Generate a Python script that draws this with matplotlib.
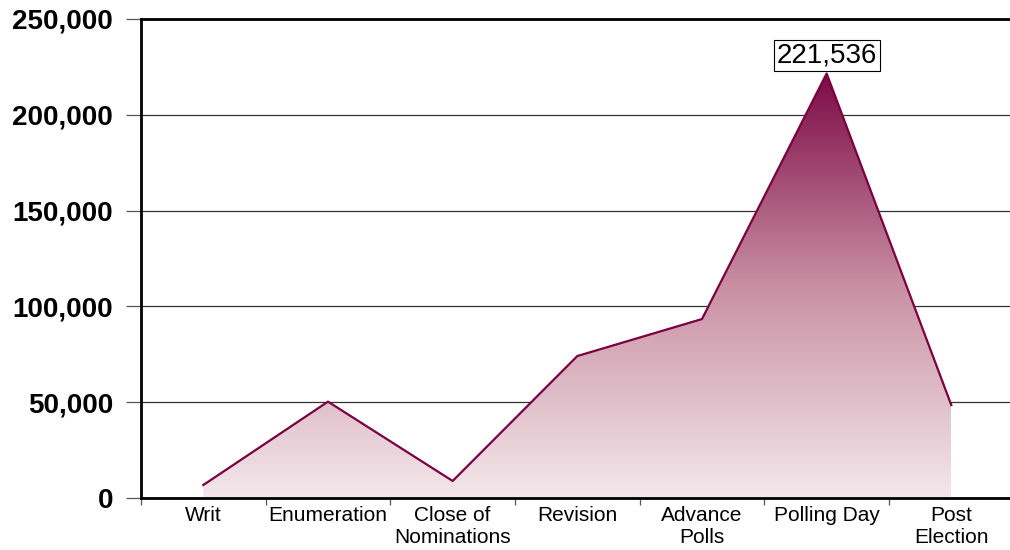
import numpy as np
import matplotlib.pyplot as plt
import matplotlib.ticker as ticker
from matplotlib.colors import LinearSegmentedColormap

plt.rcParams['font.family'] = ['Liberation Sans', 'DejaVu Sans']

# данные
stages = ['Writ', 'Enumeration', 'Close of\nNominations', 'Revision',
          'Advance\nPolls', 'Polling Day', 'Post\nElection']
values = [6800, 50300, 8900, 74100, 93400, 221536, 48500]
peak_label = '221,536'

x = np.arange(len(stages))

fig = plt.figure(figsize=(10.1, 5.5), dpi=100)
ax = fig.add_axes([0.1396, 0.0945, 0.864, 0.871])

ax.set_xlim(-0.5, len(stages) - 0.5)
ax.set_ylim(0, 250000)

# заливка с градиентом
poly = ax.fill_between(x, values, 0, color='none', lw=0, zorder=2)
cmap = LinearSegmentedColormap.from_list('grad', ['#f3e8ec', '#c98fa3', '#7c0a45'])
grad = np.linspace(0, 1, 256).reshape(-1, 1)
img = ax.imshow(grad, cmap=cmap, origin='lower', aspect='auto',
                extent=[x[0], x[-1], 0, max(values)], zorder=2)
img.set_clip_path(poly.get_paths()[0], transform=ax.transData)
ax.plot(x, values, color='#7a0040', lw=1.6, zorder=3)

# подпись максимума
imax = int(np.argmax(values))
ax.annotate(peak_label, (x[imax], values[imax]), xytext=(0, 13),
            textcoords='offset points', ha='center', va='center', fontsize=20,
            bbox=dict(boxstyle='square,pad=0.1', fc='white', ec='black', lw=0.8),
            zorder=5)

# сетка и оси
ax.yaxis.set_major_locator(ticker.MultipleLocator(50000))
ax.yaxis.set_major_formatter(ticker.FuncFormatter(lambda v, p: f'{int(v):,}'))
ax.grid(axis='y', color='#333333', lw=0.9, zorder=1)
ax.tick_params(axis='y', length=11, width=0.9, color='#555555', labelsize=20, pad=9)
for lbl in ax.yaxis.get_ticklabels():
    lbl.set_fontweight('bold')

ax.set_xticks(x)
ax.set_xticklabels(stages, fontsize=15, linespacing=1.15)
ax.set_xticks(np.arange(-0.5, len(stages) - 0.4, 1), minor=True)
ax.tick_params(axis='x', which='major', length=0, pad=6)
ax.tick_params(axis='x', which='minor', length=5, width=0.9, color='#555555')

for s in ['left', 'top', 'bottom']:
    ax.spines[s].set_linewidth(2)
    ax.spines[s].set_color('black')
ax.spines['right'].set_visible(False)

plt.savefig('out.png', dpi=100)
